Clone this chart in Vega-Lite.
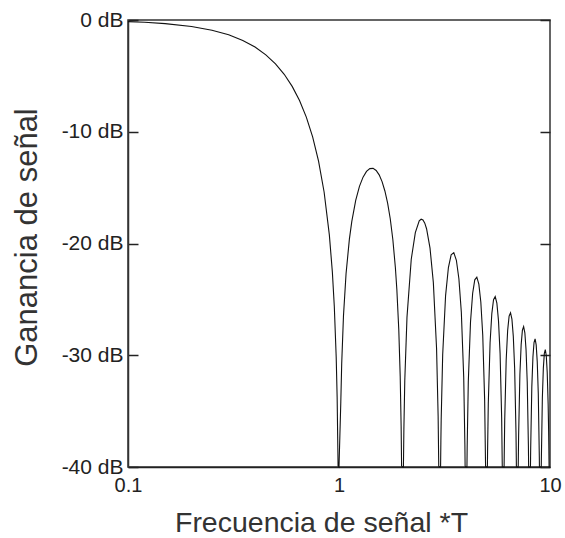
{
  "$schema": "https://vega.github.io/schema/vega-lite/v6.json",
  "width": 422,
  "height": 447,
  "autosize": "none",
  "padding": {"left": 128, "top": 20, "right": 15, "bottom": 71},
  "background": "white",
  "config": {"view": {"stroke": "#333", "strokeWidth": 1.5}, "font": "Liberation Sans"},
  "data": {"values": [
    {"f": 0.1, "g": -0.144}, {"f": 0.12, "g": -0.207}, {"f": 0.15, "g": -0.324}, {"f": 0.2, "g": -0.58}, {"f": 0.25, "g": -0.912},
    {"f": 0.3, "g": -1.326}, {"f": 0.35, "g": -1.827}, {"f": 0.4, "g": -2.42}, {"f": 0.45, "g": -3.115}, {"f": 0.5, "g": -3.922},
    {"f": 0.55, "g": -4.858}, {"f": 0.6, "g": -5.942}, {"f": 0.65, "g": -7.204}, {"f": 0.7, "g": -8.686}, {"f": 0.75, "g": -10.454},
    {"f": 0.8, "g": -12.62}, {"f": 0.85, "g": -15.391}, {"f": 0.9, "g": -19.228}, {"f": 0.93, "g": -22.538}, {"f": 0.95, "g": -25.611},
    {"f": 0.97, "g": -30.206}, {"f": 0.98, "g": -33.809}, {"f": 0.99, "g": -39.914}, {"f": 1.0, "g": -40},
    {"f": 1.02, "g": -34.16}, {"f": 1.03, "g": -30.73}, {"f": 1.05, "g": -26.48}, {"f": 1.08, "g": -22.7}, {"f": 1.12, "g": -19.61},
    {"f": 1.15, "g": -18.02}, {"f": 1.2, "g": -16.14}, {"f": 1.25, "g": -14.89}, {"f": 1.3, "g": -14.06}, {"f": 1.35, "g": -13.55},
    {"f": 1.4, "g": -13.3}, {"f": 1.45, "g": -13.28}, {"f": 1.5, "g": -13.46}, {"f": 1.55, "g": -13.86}, {"f": 1.6, "g": -14.46},
    {"f": 1.65, "g": -15.3}, {"f": 1.7, "g": -16.39}, {"f": 1.75, "g": -17.81}, {"f": 1.8, "g": -19.66}, {"f": 1.85, "g": -22.15},
    {"f": 1.88, "g": -24.11}, {"f": 1.92, "g": -27.7}, {"f": 1.95, "g": -31.86}, {"f": 1.97, "g": -36.36}, {"f": 1.98, "g": -39.92},
    {"f": 2.0, "g": -40}, {"f": 2.02, "g": -40},
    {"f": 2.03, "g": -36.62}, {"f": 2.05, "g": -32.29}, {"f": 2.1, "g": -26.59}, {"f": 2.2, "g": -21.41}, {"f": 2.3, "g": -19.02},
    {"f": 2.4, "g": -17.98}, {"f": 2.45, "g": -17.83}, {"f": 2.5, "g": -17.9}, {"f": 2.55, "g": -18.18}, {"f": 2.6, "g": -18.68},
    {"f": 2.7, "g": -20.41}, {"f": 2.8, "g": -23.5}, {"f": 2.9, "g": -29.39}, {"f": 2.95, "g": -35.45}, {"f": 2.97, "g": -39.93},
    {"f": 3.0, "g": -40}, {"f": 3.03, "g": -40},
    {"f": 3.04, "g": -37.64}, {"f": 3.05, "g": -35.74}, {"f": 3.1, "g": -29.97}, {"f": 3.2, "g": -24.66}, {"f": 3.3, "g": -22.15},
    {"f": 3.4, "g": -21.01}, {"f": 3.5, "g": -20.82}, {"f": 3.6, "g": -21.5}, {"f": 3.7, "g": -23.15}, {"f": 3.8, "g": -26.15},
    {"f": 3.9, "g": -31.97}, {"f": 3.95, "g": -37.99}, {"f": 3.96, "g": -39.94}, {"f": 4.0, "g": -40}, {"f": 4.04, "g": -40},
    {"f": 4.05, "g": -38.21}, {"f": 4.1, "g": -32.4}, {"f": 4.2, "g": -27.02}, {"f": 4.3, "g": -24.45}, {"f": 4.4, "g": -23.25},
    {"f": 4.5, "g": -23.01}, {"f": 4.6, "g": -23.63}, {"f": 4.7, "g": -25.23}, {"f": 4.8, "g": -28.18}, {"f": 4.9, "g": -33.95},
    {"f": 4.95, "g": -39.95}, {"f": 5.0, "g": -40}, {"f": 5.05, "g": -40},
    {"f": 5.06, "g": -38.57}, {"f": 5.1, "g": -34.3}, {"f": 5.2, "g": -28.88}, {"f": 5.3, "g": -26.27}, {"f": 5.4, "g": -25.03},
    {"f": 5.5, "g": -24.75}, {"f": 5.6, "g": -25.34}, {"f": 5.7, "g": -26.9}, {"f": 5.8, "g": -29.83}, {"f": 5.9, "g": -35.56},
    {"f": 5.94, "g": -39.97}, {"f": 6.0, "g": -40}, {"f": 6.06, "g": -40},
    {"f": 6.07, "g": -38.83}, {"f": 6.1, "g": -35.85}, {"f": 6.2, "g": -30.41}, {"f": 6.3, "g": -27.77}, {"f": 6.4, "g": -26.5},
    {"f": 6.5, "g": -26.2}, {"f": 6.6, "g": -26.77}, {"f": 6.7, "g": -28.31}, {"f": 6.8, "g": -31.21}, {"f": 6.9, "g": -36.92},
    {"f": 6.93, "g": -39.98}, {"f": 7.0, "g": -40}, {"f": 7.07, "g": -40},
    {"f": 7.08, "g": -39.03}, {"f": 7.1, "g": -37.17}, {"f": 7.2, "g": -31.71}, {"f": 7.3, "g": -29.05}, {"f": 7.4, "g": -27.76},
    {"f": 7.5, "g": -27.44}, {"f": 7.6, "g": -27.99}, {"f": 7.7, "g": -29.51}, {"f": 7.8, "g": -32.4}, {"f": 7.9, "g": -38.1},
    {"f": 7.91, "g": -39.0}, {"f": 7.92, "g": -40}, {"f": 8.0, "g": -40}, {"f": 8.08, "g": -40},
    {"f": 8.09, "g": -39.19}, {"f": 8.1, "g": -38.31}, {"f": 8.2, "g": -32.83}, {"f": 8.3, "g": -30.17}, {"f": 8.4, "g": -28.86},
    {"f": 8.5, "g": -28.53}, {"f": 8.6, "g": -29.07}, {"f": 8.7, "g": -30.57}, {"f": 8.8, "g": -33.45}, {"f": 8.9, "g": -39.13},
    {"f": 8.91, "g": -40}, {"f": 9.0, "g": -40}, {"f": 9.09, "g": -40},
    {"f": 9.1, "g": -39.33}, {"f": 9.2, "g": -33.83}, {"f": 9.3, "g": -31.15}, {"f": 9.4, "g": -29.84}, {"f": 9.5, "g": -29.5},
    {"f": 9.6, "g": -30.02}, {"f": 9.7, "g": -31.52}, {"f": 9.8, "g": -34.38}, {"f": 9.85, "g": -36.67}, {"f": 9.88, "g": -38.52},
    {"f": 9.89, "g": -39.25}, {"f": 9.9, "g": -40}, {"f": 10.0, "g": -40}
  ]},
  "layer": [
    {
      "mark": {"type": "line", "color": "#111", "strokeWidth": 1.1},
      "encoding": {
        "x": {
          "field": "f", "type": "quantitative",
          "scale": {"type": "log", "domain": [0.1, 10]},
          "axis": {
            "values": [0.1, 1, 10], "format": "~g", "ticks": false, "labelPadding": 8,
            "labelFontSize": 20, "labelColor": "#222", "labelFlush": false, "labelOverlap": false,
            "domainColor": "#222", "domainWidth": 1.5, "grid": false,
            "title": "Frecuencia de señal *T", "titleFontSize": 28.5, "titleFontWeight": "normal",
            "titleColor": "#333", "titleX": 193, "titleY": 64, "titleBaseline": "alphabetic", "titleAlign": "center"
          }
        },
        "y": {
          "field": "g", "type": "quantitative",
          "scale": {"domain": [-40, 0]},
          "axis": {
            "values": [-40, -30, -20, -10, 0], "labelExpr": "datum.value + ' dB'",
            "tickSize": -10, "tickWidth": 1.5, "tickColor": "#222", "labelPadding": 15,
            "labelFontSize": 21, "labelColor": "#222", "labelFlush": false, "labelOverlap": false,
            "domainColor": "#333", "domainWidth": 1.5, "grid": false,
            "title": "Ganancia de señal", "titleFontSize": 31, "titleFontWeight": "normal", "titleColor": "#333",
            "titleAngle": 270, "titleX": -101, "titleY": 217, "titleBaseline": "middle", "titleAlign": "center"
          }
        }
      }
    },
    {
      "mark": {"type": "line", "strokeOpacity": 0},
      "encoding": {
        "x": {"field": "f", "type": "quantitative", "scale": {"type": "log", "domain": [0.1, 10]}},
        "y": {
          "field": "g", "type": "quantitative", "scale": {"domain": [-40, 0]},
          "axis": {"orient": "right", "labels": false, "title": null, "domain": false, "grid": false,
                   "tickSize": -10, "tickWidth": 1.5, "tickColor": "#222", "values": [-40, -30, -20, -10, 0]}
        }
      }
    }
  ],
  "resolve": {"scale": {"y": "independent"}}
}
